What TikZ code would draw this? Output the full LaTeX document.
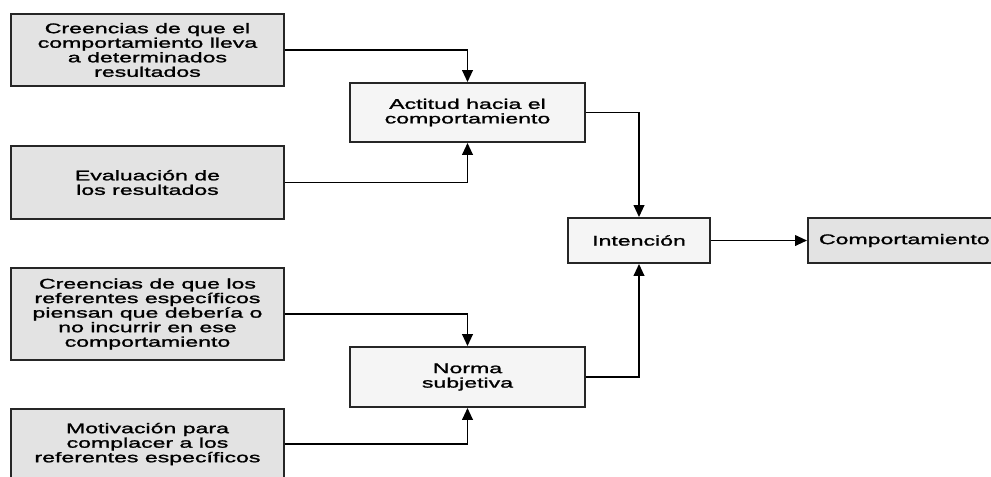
\documentclass[tikz,border=0pt]{standalone}
\usepackage{fontspec}
\setmainfont[FakeStretch=1.65,FakeBold=1.5]{Liberation Sans}
\usetikzlibrary{arrows.meta}
\begin{document}
\begin{tikzpicture}[x=0.75pt,y=-0.75pt,
  outer/.style={draw=black!85,line width=1.4pt,fill=black!11,minimum width=204.75pt,align=center,font=\fontsize{10.5}{10.9}\selectfont},
  inner/.style={draw=black!85,line width=1.4pt,fill=black!4,align=center,font=\fontsize{10.5}{10.9}\selectfont},
  link/.style={line width=1.35pt,-{Triangle[length=9pt,width=8pt]}}]
\useasboundingbox (0,0) rectangle (991,476);
\clip (0,0) rectangle (991,476);
% left column
\node[outer,minimum height=54pt] (cre1) at (147.5,50) {Creencias de que el\\comportamiento lleva\\a determinados\\resultados};
\node[outer,minimum height=54.75pt] (eval) at (147.5,182.5) {Evaluación de\\los resultados};
\node[outer,minimum height=69pt] (cre2) at (147.5,314) {Creencias de que los\\referentes específicos\\piensan que debería o\\no incurrir en ese\\comportamiento};
\node[outer,minimum height=52.5pt] (moti) at (147.5,444) {Motivación para\\complacer a los\\referentes específicos};
% middle column
\node[inner,minimum width=176.25pt,minimum height=44.25pt] (acti) at (467.5,112.5) {Actitud hacia el\\comportamiento};
\node[inner,minimum width=176.25pt,minimum height=45pt] (norm) at (467.5,377) {Norma\\subjetiva};
% right
\node[inner,minimum width=106.5pt,minimum height=33.75pt] (inte) at (639,240.5) {Intención};
\node[inner,fill=black!11,minimum height=33.75pt,inner xsep=8.25pt,anchor=west] (comp) at (807,240.5) {Comportamiento};
% arrows
\draw[link] (cre1.east) -| (acti.north);
\draw[link] (eval.east) -| (acti.south);
\draw[link] (cre2.east) -| (norm.north);
\draw[link] (moti.east) -| (norm.south);
\draw[link] (acti.east) -| (inte.north);
\draw[link] (norm.east) -| (inte.south);
\draw[link] (inte.east) -- (comp.west);
\end{tikzpicture}
\end{document}
